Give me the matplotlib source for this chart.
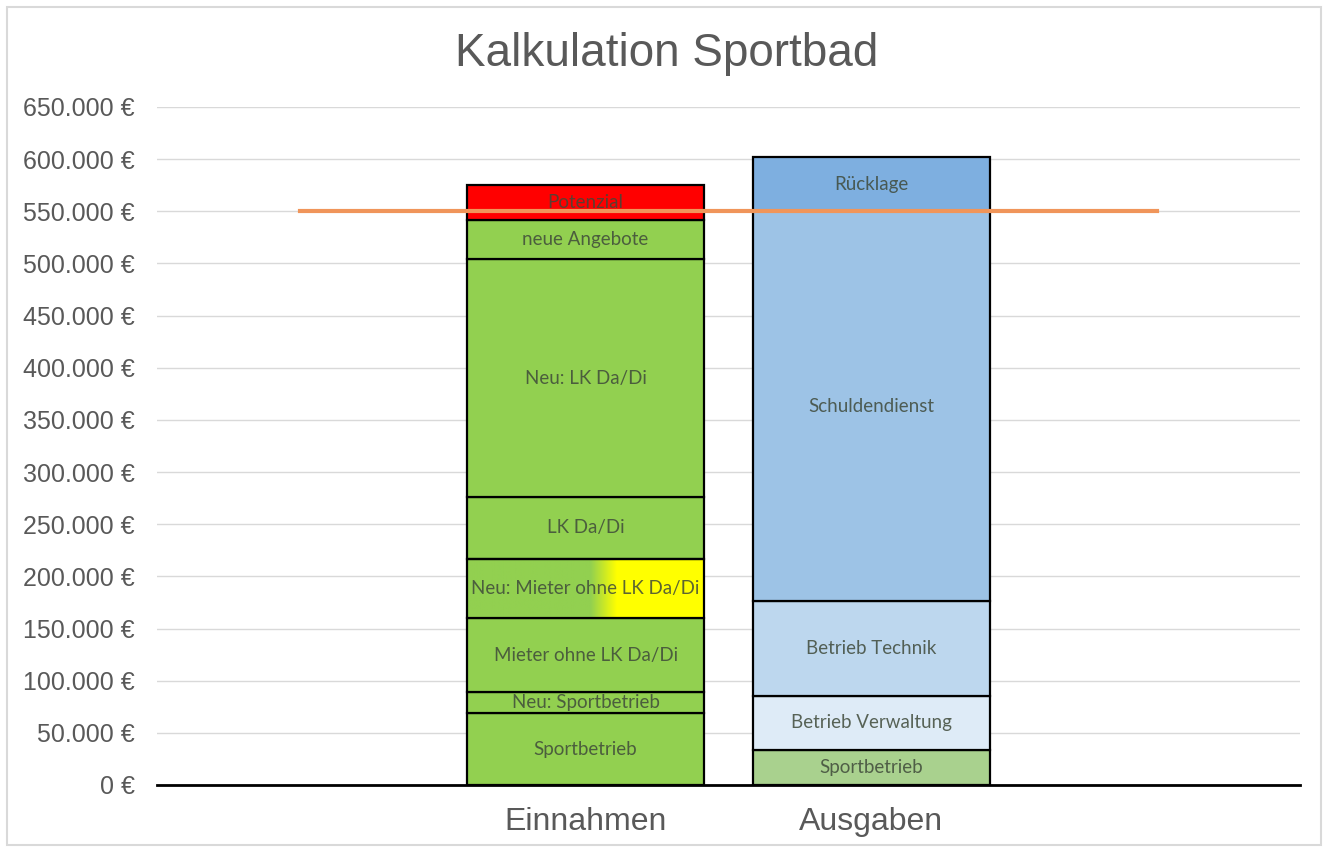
import numpy as np
import matplotlib.pyplot as plt
from matplotlib.colors import LinearSegmentedColormap

# Daten (Werte in Euro, gestapelt von unten nach oben)
categories = ["", "Einnahmen", "Ausgaben", ""]

einnahmen_labels = ["Sportbetrieb", "Neu: Sportbetrieb", "Mieter ohne LK Da/Di",
                    "Neu: Mieter ohne LK Da/Di", "LK Da/Di", "Neu: LK Da/Di",
                    "neue Angebote", "Potenzial"]
einnahmen_values = [69000, 20000, 71000, 57000, 59000, 228000, 38000, 33000]
einnahmen_colors = ["#92d050", "#92d050", "#92d050", "gradient", "#92d050",
                    "#92d050", "#92d050", "#ff0000"]

ausgaben_labels = ["Sportbetrieb", "Betrieb Verwaltung", "Betrieb Technik",
                   "Schuldendienst", "Rücklage"]
ausgaben_values = [33500, 52000, 91000, 373500, 52000]
ausgaben_colors = ["#a9d18e", "#deebf7", "#bdd7ee", "#9dc3e6", "#7eafe0"]

grenze = 550000
yticks = np.arange(0, 650001, 50000)

fig = plt.figure(figsize=(13.31, 8.52), dpi=100)
ax = fig.add_axes([157 / 1331, 1 - 785 / 852, 1143 / 1331, 678 / 852])

x = np.arange(len(categories))
width = 0.83
grad_cmap = LinearSegmentedColormap.from_list(
    "gy", [(0, "#92d050"), (0.52, "#92d050"), (0.63, "#ffff00"), (1, "#ffff00")])


def draw_stack(xpos, values, labels, colors):
    bottom = 0
    for v, lab, c in zip(values, labels, colors):
        if c == "gradient":
            bars = ax.bar(xpos, v, width, bottom=bottom, color="none",
                          edgecolor="black", linewidth=1.6, zorder=3)
            rect = bars[0]
            im = ax.imshow(np.linspace(0, 1, 256).reshape(1, -1), cmap=grad_cmap,
                           aspect="auto", zorder=2,
                           extent=[xpos - width / 2, xpos + width / 2, bottom, bottom + v])
            im.set_clip_path(rect)
        else:
            ax.bar(xpos, v, width, bottom=bottom, color=c, edgecolor="black",
                   linewidth=1.6, zorder=2)
        ax.text(xpos, bottom + v / 2, lab, ha="center", va="center",
                fontsize=13.5, family="Lato", color="#3f4a3a", alpha=0.85, zorder=4)
        bottom += v


draw_stack(x[1], einnahmen_values, einnahmen_labels, einnahmen_colors)
draw_stack(x[2], ausgaben_values, ausgaben_labels, ausgaben_colors)

ax.plot([x[0], x[-1]], [grenze, grenze], color="#f0955a", linewidth=3, zorder=5)

ax.set_xlim(-0.5, len(categories) - 0.5)
ax.set_ylim(0, 650000)
ax.set_yticks(yticks)
ax.set_yticklabels([f"{v:,.0f} €".replace(",", ".") for v in yticks],
                   fontsize=18, color="#595959", family="Liberation Sans")
ax.set_xticks(x)
ax.set_xticklabels(categories, fontsize=23, color="#595959", family="Liberation Sans")
ax.tick_params(axis="both", length=0)
ax.tick_params(axis="y", pad=16)
ax.tick_params(axis="x", pad=16)

ax.grid(axis="y", color="#d9d9d9", linewidth=1, zorder=0)
ax.set_axisbelow(True)
for side in ["top", "right", "left"]:
    ax.spines[side].set_visible(False)
ax.spines["bottom"].set_color("black")
ax.spines["bottom"].set_linewidth(2)
ax.spines["bottom"].set_zorder(6)

fig.text(667 / 1331, 1 - 54 / 852, "Kalkulation Sportbad", ha="center", va="center",
         fontsize=33, color="#595959", family="Liberation Sans")

# heller Rahmen um die Grafik
fig.patches.append(plt.Rectangle((7 / 1331, 7 / 852), 1314 / 1331, 838 / 852,
                                 transform=fig.transFigure, fill=False,
                                 edgecolor="#d9d9d9", linewidth=1.5))

fig.savefig("out.png", dpi=100)
